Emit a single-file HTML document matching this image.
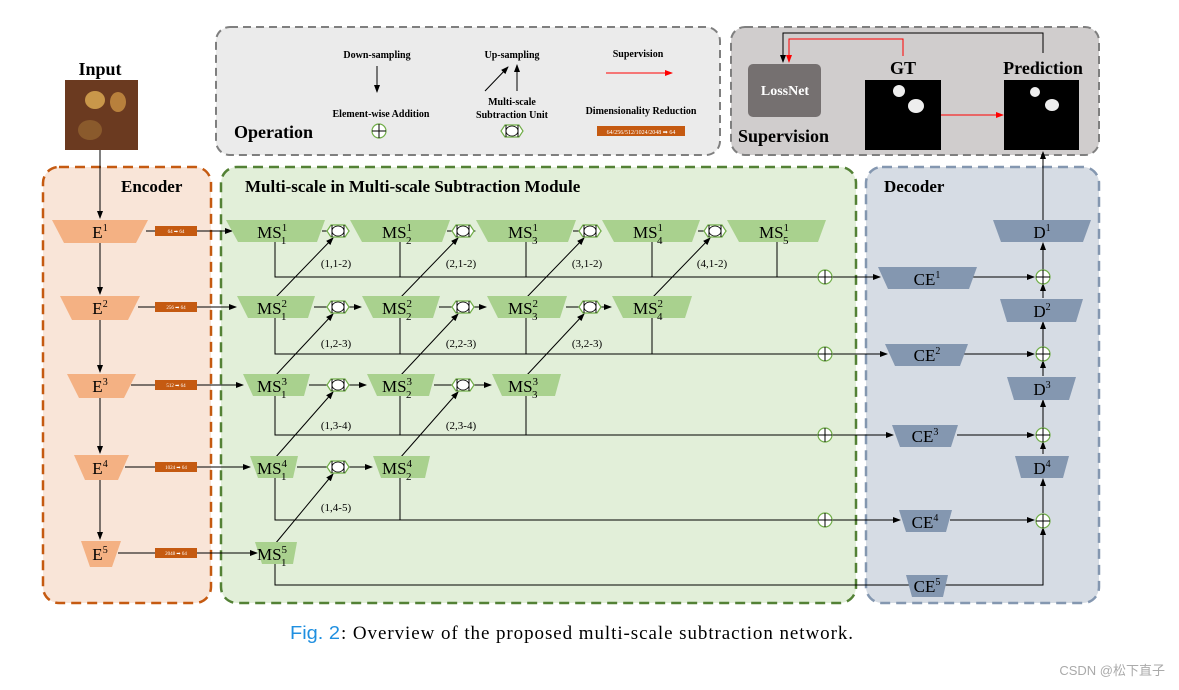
<!DOCTYPE html>
<html><head><meta charset="utf-8"><style>
body{margin:0;background:#fff;}
svg{display:block;font-family:"Liberation Serif",serif;}
</style></head><body>
<svg width="1179" height="690" viewBox="0 0 1179 690" xmlns="http://www.w3.org/2000/svg">
<defs>
<marker id="a" markerWidth="8" markerHeight="8" refX="7" refY="4" orient="auto" markerUnits="userSpaceOnUse"><path d="M0,1 L8,4 L0,7z" fill="#000"/></marker>
<marker id="r" markerWidth="8" markerHeight="8" refX="7" refY="4" orient="auto" markerUnits="userSpaceOnUse"><path d="M0,1 L8,4 L0,7z" fill="#f00"/></marker>
<g id="plus"><circle r="7" fill="#fff" stroke="#70ad47" stroke-width="1.2"/><path d="M-7,0H7M0,-7V7" stroke="#000" stroke-width="1"/></g>
<g id="sub"><path d="M-11,0 L-7,-6 H7 L11,0 L7,6 H-7z" fill="#fff" stroke="#70ad47" stroke-width="1.2"/><ellipse rx="6" ry="5" fill="#fff" stroke="#000" stroke-width="0.8"/><path d="M-6,-6V6M6,-6V6" stroke="#000" stroke-width="1"/></g>
</defs>

<rect x="216" y="27" width="504" height="128" rx="14" fill="#ebebeb" stroke="#7f7f7f" stroke-width="2" stroke-dasharray="8,5"/>
<rect x="731" y="27" width="368" height="128" rx="14" fill="#d0cdcd" stroke="#7f7f7f" stroke-width="2" stroke-dasharray="8,5"/>
<rect x="43" y="167" width="168" height="436" rx="16" fill="#f9e5d8" stroke="#c55a11" stroke-width="2.5" stroke-dasharray="10,6"/>
<rect x="221" y="167" width="635" height="436" rx="16" fill="#e2efd9" stroke="#538135" stroke-width="2.5" stroke-dasharray="10,6"/>
<rect x="866" y="167" width="233" height="436" rx="16" fill="#d6dce4" stroke="#8497b0" stroke-width="2.5" stroke-dasharray="10,6"/>

<g font-size="10" text-anchor="middle" font-weight="bold">
<text x="377" y="58">Down-sampling</text>
<text x="512" y="58">Up-sampling</text>
<text x="638" y="57">Supervision</text>
<text x="381" y="117">Element-wise Addition</text>
<text x="512" y="105">Multi-scale</text>
<text x="512" y="118">Subtraction Unit</text>
<text x="641" y="114">Dimensionality Reduction</text>
</g>
<text x="234" y="138" font-size="18" font-weight="bold">Operation</text>
<line x1="377" y1="66" x2="377" y2="92" stroke="#000" marker-end="url(#a)"/>
<line x1="485" y1="91" x2="508" y2="67" stroke="#000" marker-end="url(#a)"/>
<line x1="517" y1="91" x2="517" y2="65" stroke="#000" marker-end="url(#a)"/>
<line x1="606" y1="73" x2="672" y2="73" stroke="#f00" marker-end="url(#r)"/>
<use href="#plus" x="379" y="131"/>
<use href="#sub" x="512" y="131"/>
<rect x="597" y="126" width="88" height="10" fill="#c55a11"/>
<text x="641" y="134" font-size="6" fill="#fff" text-anchor="middle">64/256/512/1024/2048 ➡ 64</text>

<rect x="748" y="64" width="73" height="53" rx="5" fill="#757070"/>
<text x="785" y="95" font-size="14" fill="#fff" text-anchor="middle" font-weight="bold">LossNet</text>
<text x="903" y="74" font-size="18" text-anchor="middle" font-weight="bold">GT</text>
<text x="1043" y="74" font-size="18" text-anchor="middle" font-weight="bold">Prediction</text>
<rect x="865" y="80" width="76" height="70" fill="#000"/>
<ellipse cx="899" cy="91" rx="6" ry="6" fill="#eee"/><ellipse cx="916" cy="106" rx="8" ry="7" fill="#eee"/>
<rect x="1004" y="80" width="75" height="70" fill="#000"/>
<ellipse cx="1035" cy="92" rx="5" ry="5" fill="#eee"/><ellipse cx="1052" cy="105" rx="7" ry="6" fill="#eee"/>
<line x1="941" y1="115" x2="1003" y2="115" stroke="#f00" marker-end="url(#r)"/>
<polyline points="1043,53 1043,33 783,33 783,62" fill="none" stroke="#000" marker-end="url(#a)"/>
<polyline points="903,56 903,39 789,39 789,62" fill="none" stroke="#f00" marker-end="url(#r)"/>
<text x="738" y="142" font-size="18" font-weight="bold">Supervision</text>

<text x="100" y="75" font-size="18" text-anchor="middle" font-weight="bold">Input</text>
<rect x="65" y="80" width="73" height="70" fill="#6b3a20"/>
<ellipse cx="95" cy="100" rx="10" ry="9" fill="#c9974a"/><ellipse cx="118" cy="102" rx="8" ry="10" fill="#b8803c"/><ellipse cx="90" cy="130" rx="12" ry="10" fill="#8a5a2c"/>
<line x1="100" y1="150" x2="100" y2="218" stroke="#000" marker-end="url(#a)"/>

<text x="121" y="192" font-size="17" font-weight="bold">Encoder</text>
<text x="245" y="192" font-size="17" font-weight="bold">Multi-scale in Multi-scale Subtraction Module</text>
<text x="884" y="192" font-size="17" font-weight="bold">Decoder</text>

<g fill="#f4b183">
<polygon points="52,220 148,220 136,243 64,243"/>
<polygon points="60,296 140,296 128,320 72,320"/>
<polygon points="67,374 136,374 124,398 79,398"/>
<polygon points="74,455 129,455 118,480 85,480"/>
<polygon points="81,541 121,541 112,567 90,567"/>
</g>
<g font-size="17" text-anchor="middle">
<text x="100" y="238">E<tspan font-size="10" dy="-7">1</tspan></text>
<text x="100" y="314">E<tspan font-size="10" dy="-7">2</tspan></text>
<text x="100" y="392">E<tspan font-size="10" dy="-7">3</tspan></text>
<text x="100" y="474">E<tspan font-size="10" dy="-7">4</tspan></text>
<text x="100" y="560">E<tspan font-size="10" dy="-7">5</tspan></text>
</g>
<g stroke="#000">
<line x1="100" y1="243" x2="100" y2="294" marker-end="url(#a)"/>
<line x1="100" y1="320" x2="100" y2="372" marker-end="url(#a)"/>
<line x1="100" y1="398" x2="100" y2="453" marker-end="url(#a)"/>
<line x1="100" y1="480" x2="100" y2="539" marker-end="url(#a)"/>
<line x1="146" y1="231" x2="232" y2="231" marker-end="url(#a)"/>
<line x1="138" y1="307" x2="236" y2="307" marker-end="url(#a)"/>
<line x1="131" y1="385" x2="243" y2="385" marker-end="url(#a)"/>
<line x1="125" y1="467" x2="250" y2="467" marker-end="url(#a)"/>
<line x1="118" y1="553" x2="257" y2="553" marker-end="url(#a)"/>
</g>
<g fill="#c55a11">
<rect x="155" y="226" width="42" height="10"/><rect x="155" y="302" width="42" height="10"/><rect x="155" y="380" width="42" height="10"/><rect x="155" y="462" width="42" height="10"/><rect x="155" y="548" width="42" height="10"/>
</g>
<g font-size="5" fill="#fff" text-anchor="middle">
<text x="176" y="233">64 ➡ 64</text><text x="176" y="309">256 ➡ 64</text><text x="176" y="387">512 ➡ 64</text><text x="176" y="469">1024 ➡ 64</text><text x="176" y="555">2048 ➡ 64</text>
</g>

<g stroke="#000" fill="none" stroke-width="1">
<polyline points="275,242 275,277 818,277"/>
<line x1="400" y1="242" x2="400" y2="277"/><line x1="526" y1="242" x2="526" y2="277"/><line x1="652" y1="242" x2="652" y2="277"/><line x1="777" y1="242" x2="777" y2="277"/>
<polyline points="275,318 275,354 818,354"/>
<line x1="400" y1="318" x2="400" y2="354"/><line x1="526" y1="318" x2="526" y2="354"/><line x1="652" y1="318" x2="652" y2="354"/>
<polyline points="275,396 275,435 818,435"/>
<line x1="400" y1="396" x2="400" y2="435"/><line x1="526" y1="396" x2="526" y2="435"/>
<polyline points="275,478 275,520 818,520"/>
<line x1="400" y1="478" x2="400" y2="520"/>
<polyline points="275,564 275,585 1043,585 1043,528" marker-end="url(#a)"/>
</g>
<g stroke="#000" marker-end="url(#a)">
<line x1="275" y1="298" x2="333" y2="238"/><line x1="400" y1="298" x2="458" y2="238"/><line x1="526" y1="298" x2="584" y2="238"/><line x1="652" y1="298" x2="710" y2="238"/>
<line x1="275" y1="376" x2="333" y2="314"/><line x1="400" y1="376" x2="458" y2="314"/><line x1="526" y1="376" x2="584" y2="314"/>
<line x1="275" y1="458" x2="333" y2="392"/><line x1="400" y1="458" x2="458" y2="392"/>
<line x1="275" y1="544" x2="333" y2="474"/>
</g>
<g font-size="11" text-anchor="middle">
<text x="336" y="267">(1,1-2)</text><text x="461" y="267">(2,1-2)</text><text x="587" y="267">(3,1-2)</text><text x="712" y="267">(4,1-2)</text>
<text x="336" y="347">(1,2-3)</text><text x="461" y="347">(2,2-3)</text><text x="587" y="347">(3,2-3)</text>
<text x="336" y="429">(1,3-4)</text><text x="461" y="429">(2,3-4)</text>
<text x="336" y="511">(1,4-5)</text>
</g>
<g stroke="#000" marker-end="url(#a)">
<line x1="322" y1="231" x2="349" y2="231"/><line x1="447" y1="231" x2="475" y2="231"/><line x1="573" y1="231" x2="601" y2="231"/><line x1="698" y1="231" x2="726" y2="231"/>
<line x1="314" y1="307" x2="361" y2="307"/><line x1="439" y1="307" x2="486" y2="307"/><line x1="566" y1="307" x2="611" y2="307"/>
<line x1="309" y1="385" x2="366" y2="385"/><line x1="434" y1="385" x2="491" y2="385"/>
<line x1="297" y1="467" x2="372" y2="467"/>
</g>
<g>
<use href="#sub" x="338" y="231"/><use href="#sub" x="463" y="231"/><use href="#sub" x="590" y="231"/><use href="#sub" x="715" y="231"/>
<use href="#sub" x="338" y="307"/><use href="#sub" x="463" y="307"/><use href="#sub" x="590" y="307"/>
<use href="#sub" x="338" y="385"/><use href="#sub" x="463" y="385"/>
<use href="#sub" x="338" y="467"/>
</g>
<g fill="#a9d18e">
<polygon points="226,220 325,220 317,242 238,242"/><polygon points="350,220 450,220 442,242 362,242"/><polygon points="476,220 576,220 568,242 488,242"/><polygon points="602,220 700,220 692,242 614,242"/><polygon points="727,220 826,220 818,242 739,242"/>
<polygon points="237,296 315,296 308,318 248,318"/><polygon points="362,296 440,296 433,318 373,318"/><polygon points="487,296 567,296 560,318 498,318"/><polygon points="612,296 692,296 685,318 623,318"/>
<polygon points="243,374 310,374 304,396 253,396"/><polygon points="367,374 435,374 429,396 377,396"/><polygon points="492,374 561,374 555,396 502,396"/>
<polygon points="250,456 298,456 293,478 258,478"/><polygon points="373,456 430,456 425,478 381,478"/>
<polygon points="255,542 297,542 293,564 262,564"/>
</g>
<g font-size="17" text-anchor="middle">
<text x="272" y="238">MS<tspan font-size="11" dy="-7">1</tspan><tspan font-size="11" dx="-6" dy="13">1</tspan></text>
<text x="397" y="238">MS<tspan font-size="11" dy="-7">1</tspan><tspan font-size="11" dx="-6" dy="13">2</tspan></text>
<text x="523" y="238">MS<tspan font-size="11" dy="-7">1</tspan><tspan font-size="11" dx="-6" dy="13">3</tspan></text>
<text x="648" y="238">MS<tspan font-size="11" dy="-7">1</tspan><tspan font-size="11" dx="-6" dy="13">4</tspan></text>
<text x="774" y="238">MS<tspan font-size="11" dy="-7">1</tspan><tspan font-size="11" dx="-6" dy="13">5</tspan></text>
<text x="272" y="314">MS<tspan font-size="11" dy="-7">2</tspan><tspan font-size="11" dx="-6" dy="13">1</tspan></text>
<text x="397" y="314">MS<tspan font-size="11" dy="-7">2</tspan><tspan font-size="11" dx="-6" dy="13">2</tspan></text>
<text x="523" y="314">MS<tspan font-size="11" dy="-7">2</tspan><tspan font-size="11" dx="-6" dy="13">3</tspan></text>
<text x="648" y="314">MS<tspan font-size="11" dy="-7">2</tspan><tspan font-size="11" dx="-6" dy="13">4</tspan></text>
<text x="272" y="392">MS<tspan font-size="11" dy="-7">3</tspan><tspan font-size="11" dx="-6" dy="13">1</tspan></text>
<text x="397" y="392">MS<tspan font-size="11" dy="-7">3</tspan><tspan font-size="11" dx="-6" dy="13">2</tspan></text>
<text x="523" y="392">MS<tspan font-size="11" dy="-7">3</tspan><tspan font-size="11" dx="-6" dy="13">3</tspan></text>
<text x="272" y="474">MS<tspan font-size="11" dy="-7">4</tspan><tspan font-size="11" dx="-6" dy="13">1</tspan></text>
<text x="397" y="474">MS<tspan font-size="11" dy="-7">4</tspan><tspan font-size="11" dx="-6" dy="13">2</tspan></text>
<text x="272" y="560">MS<tspan font-size="11" dy="-7">5</tspan><tspan font-size="11" dx="-6" dy="13">1</tspan></text>
</g>

<g stroke="#000" marker-end="url(#a)">
<line x1="832" y1="277" x2="880" y2="277"/><line x1="832" y1="354" x2="887" y2="354"/><line x1="832" y1="435" x2="893" y2="435"/><line x1="832" y1="520" x2="900" y2="520"/>
<line x1="972" y1="277" x2="1034" y2="277"/><line x1="964" y1="354" x2="1034" y2="354"/><line x1="957" y1="435" x2="1034" y2="435"/><line x1="950" y1="520" x2="1034" y2="520"/>
<line x1="1043" y1="513" x2="1043" y2="479"/><line x1="1043" y1="454" x2="1043" y2="442"/>
<line x1="1043" y1="428" x2="1043" y2="400"/><line x1="1043" y1="376" x2="1043" y2="361"/>
<line x1="1043" y1="347" x2="1043" y2="322"/><line x1="1043" y1="298" x2="1043" y2="284"/>
<line x1="1043" y1="270" x2="1043" y2="243"/>
<line x1="1043" y1="220" x2="1043" y2="152"/>
</g>
<use href="#plus" x="825" y="277"/><use href="#plus" x="825" y="354"/><use href="#plus" x="825" y="435"/><use href="#plus" x="825" y="520"/>
<use href="#plus" x="1043" y="277"/><use href="#plus" x="1043" y="354"/><use href="#plus" x="1043" y="435"/><use href="#plus" x="1043" y="521"/>
<g fill="#8497b0">
<polygon points="878,267 977,267 969,289 888,289"/>
<polygon points="885,344 968,344 960,366 895,366"/>
<polygon points="892,425 958,425 951,447 900,447"/>
<polygon points="899,510 952,510 946,532 906,532"/>
<polygon points="906,575 948,575 943,597 912,597"/>
<polygon points="993,220 1091,220 1083,242 1001,242"/>
<polygon points="1000,299 1083,299 1076,322 1007,322"/>
<polygon points="1007,377 1076,377 1069,400 1014,400"/>
<polygon points="1015,456 1069,456 1063,478 1021,478"/>
</g>
<g font-size="17" text-anchor="middle">
<text x="927" y="285">CE<tspan font-size="10" dy="-7">1</tspan></text>
<text x="927" y="361">CE<tspan font-size="10" dy="-7">2</tspan></text>
<text x="925" y="442">CE<tspan font-size="10" dy="-7">3</tspan></text>
<text x="925" y="528">CE<tspan font-size="10" dy="-7">4</tspan></text>
<text x="927" y="592">CE<tspan font-size="10" dy="-7">5</tspan></text>
<text x="1042" y="238">D<tspan font-size="10" dy="-7">1</tspan></text>
<text x="1042" y="317">D<tspan font-size="10" dy="-7">2</tspan></text>
<text x="1042" y="395">D<tspan font-size="10" dy="-7">3</tspan></text>
<text x="1042" y="474">D<tspan font-size="10" dy="-7">4</tspan></text>
</g>

<text x="290" y="639" fill="#1f8fe0" font-family="Liberation Sans, sans-serif" font-size="18" textLength="50" lengthAdjust="spacingAndGlyphs">Fig. 2</text>
<text x="341" y="639" font-size="19" textLength="512" lengthAdjust="spacing">: Overview of the proposed multi-scale subtraction network.</text>
<text x="1165" y="675" font-size="13" fill="#aaa" text-anchor="end" font-family="Liberation Sans, Noto Sans CJK SC, sans-serif">CSDN @松下直子</text>
</svg>
</body></html>
